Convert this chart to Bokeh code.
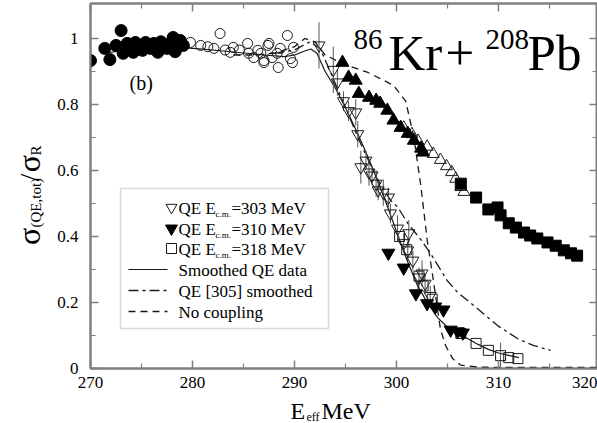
import math
from bokeh.plotting import figure
from bokeh.layouts import column, row
from bokeh.models import Range1d, LinearAxis, Label, FixedTicker, BoxAnnotation
from bokeh.embed import file_html
from bokeh.resources import INLINE

FONT = "Liberation Serif"
INK = "#1a1a1a"
AX = "#808080"

# ---------------- data ----------------
# filled circles (low energy QE data)
fc_E = [270.0, 271.4, 271.9, 272.5, 273.0, 273.2, 273.6, 274.2, 274.4, 274.8, 275.1, 275.4,
        275.9, 276.2, 276.6, 276.9, 277.1, 277.5, 277.8, 278.1, 278.3, 278.5, 278.8, 279.1]
fc_s = [0.933, 0.970, 0.936, 0.979, 1.024, 0.955, 0.985, 0.958, 0.988, 0.975, 0.964, 0.988,
        0.970, 0.985, 0.958, 0.990, 0.979, 0.970, 0.985, 1.003, 0.960, 0.973, 0.994, 0.979]

# open circles
oc_E = [279.8, 280.8, 281.5, 282.1, 282.7, 283.2, 283.7, 284.0, 284.6, 285.4, 285.5, 286.0,
        286.4, 286.7, 287.0, 287.0, 287.4, 287.5, 287.8, 288.3, 288.4, 288.6, 289.3, 289.6,
        289.8, 289.9]
oc_s = [0.988, 0.979, 0.975, 0.970, 1.015, 0.965, 0.958, 0.973, 0.965, 0.985, 0.955, 0.942,
        0.964, 0.955, 0.933, 0.927, 0.979, 0.985, 0.942, 0.955, 0.912, 0.970, 1.009, 0.939,
        0.927, 0.973]

# QE Ecm = 303 MeV (open down triangles) with error bars
d303_E = [292.4, 293.8, 294.2, 294.8, 295.3, 296.0, 296.2, 296.5, 297.0, 297.3, 297.6, 298.0,
          298.2, 298.7, 299.2, 299.4, 300.1, 300.7, 301.1, 301.2, 301.6, 302.2, 302.5, 302.8,
          303.3]
d303_s = [0.979, 0.905, 0.867, 0.810, 0.780, 0.776, 0.710, 0.610, 0.630, 0.594, 0.585, 0.560,
          0.540, 0.533, 0.518, 0.470, 0.424, 0.380, 0.358, 0.410, 0.327, 0.276, 0.288, 0.257,
          0.220]
d303_err = [0.070, 0.070, 0.040, 0.030, 0.030, 0.040, 0.040, 0.050, 0.030, 0.040, 0.030, 0.040,
            0.030, 0.040, 0.030, 0.030, 0.040, 0.030, 0.030, 0.040, 0.030, 0.030, 0.040, 0.030,
            0.030]

# QE Ecm = 310 MeV (filled down triangles)
d310_E = [299.2, 300.7, 301.9, 303.0, 303.8, 304.6, 305.3, 306.0, 306.5]
d310_s = [0.350, 0.305, 0.227, 0.197, 0.187, 0.178, 0.117, 0.112, 0.108]

# QE Ecm = 318 MeV (open squares)
s318_E = [300.3, 301.0, 302.2, 302.6, 303.5, 306.3, 307.8, 309.0, 310.2, 311.0, 311.9]
s318_s = [0.400, 0.360, 0.280, 0.250, 0.210, 0.106, 0.076, 0.055, 0.039, 0.033, 0.030]
s318_err = [0.0, 0.0, 0.0, 0.0, 0.0, 0.0, 0.0, 0.0, 0.039, 0.0, 0.0]

# upper band: filled up triangles, open up triangles, filled squares
uf_E = [294.7, 295.3, 296.0, 296.3, 297.3, 298.0, 298.4, 299.1, 299.7, 300.4, 301.1, 301.7,
        302.4, 302.6]
uf_s = [0.927, 0.882, 0.873, 0.833, 0.821, 0.812, 0.803, 0.782, 0.752, 0.730, 0.712, 0.691,
        0.667, 0.655]
uo_E = [300.7, 301.5, 302.1, 303.0, 303.6, 304.3, 304.9, 305.4, 305.8, 306.3, 306.6]
uo_s = [0.730, 0.710, 0.690, 0.672, 0.650, 0.632, 0.613, 0.595, 0.575, 0.550, 0.535]
sf_E = [306.3, 307.8, 309.0, 309.9, 310.2, 311.0, 311.7, 312.5, 313.1, 313.8, 314.8, 315.6,
        316.4, 317.1, 317.7]
sf_s = [0.560, 0.518, 0.482, 0.488, 0.464, 0.440, 0.427, 0.412, 0.403, 0.394, 0.382, 0.372,
        0.358, 0.349, 0.342]

# curves
sm_E = [271, 273, 275, 277, 279, 281, 283, 285, 287, 289, 290, 291, 291.6, 292.2, 293, 294,
        295, 296, 297, 298, 299, 300, 301, 302, 303, 304, 305, 306, 307, 308, 309, 310, 311, 312]
sm_s = [0.955, 0.962, 0.968, 0.972, 0.972, 0.968, 0.962, 0.956, 0.950, 0.945, 0.950, 0.962,
        0.968, 0.955, 0.900, 0.850, 0.790, 0.725, 0.655, 0.580, 0.500, 0.415, 0.330, 0.255,
        0.200, 0.155, 0.125, 0.106, 0.090, 0.073, 0.058, 0.047, 0.040, 0.033]
dd_E = [288, 290, 291.5, 292.5, 293.5, 295, 296.5, 298, 299.4, 300.1, 301.1, 302.4, 303.3,
        305, 306, 307.6, 309.9, 311.9, 313.4, 315.1]
dd_s = [0.955, 0.965, 0.990, 0.970, 0.900, 0.790, 0.680, 0.580, 0.510, 0.490, 0.440, 0.390,
        0.350, 0.265, 0.230, 0.190, 0.130, 0.090, 0.070, 0.055]
nc_E = [284, 286, 288, 290, 291, 292, 293, 295, 297.2, 299.7, 300.9, 301.7, 302.4, 303.0,
        303.5, 304.3, 304.8, 305.5, 306.3, 308, 312, 316, 319.7]
nc_s = [0.950, 0.950, 0.955, 0.975, 1.000, 0.990, 0.950, 0.920, 0.897, 0.858, 0.810, 0.700,
        0.550, 0.390, 0.290, 0.120, 0.070, 0.030, 0.010, 0.004, 0.003, 0.003, 0.003]

X_MIN, X_MAX = 270, 319.7
x_ticks = [270, 280, 290, 300, 310, 319.7]
x_tick_text = {270: "270", 280: "280", 290: "290", 300: "300", 310: "310", 319.7: "320"}
x_minor = [275, 285, 295, 305, 315]
y_ticks = [0, 0.2, 0.4, 0.6, 0.8, 1]
y_minor = [0.1, 0.3, 0.5, 0.7, 0.9]

BASE_SHIFT = 0.28  # the renderer drops the alphabetic baseline ~0.28 em

# ---------------- main figure ----------------
# page layout: y-title strip 50 px wide at the left, x-title strip 27 px high at the bottom
p = figure(width=547, height=396, x_range=Range1d(X_MIN, X_MAX), y_range=Range1d(0, 1.106),
           output_backend="svg", toolbar_location=None,
           min_border_left=40, min_border_right=0, min_border_top=3, min_border_bottom=28)
p.xgrid.visible = False
p.ygrid.visible = False
p.outline_line_color = AX
p.outline_line_width = 2
p.background_fill_color = "white"
p.border_fill_color = "white"

def style_axis(ax, ticks, labels=True):
    ax.axis_line_color = AX
    ax.axis_line_width = 2
    ax.major_tick_line_color = AX
    ax.minor_tick_line_color = AX
    ax.major_tick_line_width = 1.5
    ax.minor_tick_line_width = 1.2
    ax.major_tick_in = 8
    ax.major_tick_out = 0
    ax.minor_tick_in = 5
    ax.minor_tick_out = 0
    ax.major_label_text_font = FONT
    ax.major_label_text_color = "black"
    ax.major_label_text_font_size = "17px"
    if not labels:
        ax.major_label_overrides = {t: "" for t in ticks}
        ax.major_label_standoff = 0
        ax.axis_label_standoff = 0

p.xaxis[0].ticker = FixedTicker(ticks=x_ticks, minor_ticks=x_minor)
p.yaxis[0].ticker = FixedTicker(ticks=y_ticks, minor_ticks=y_minor)
style_axis(p.xaxis[0], x_ticks)
style_axis(p.yaxis[0], y_ticks)
p.xaxis[0].major_label_standoff = 8
p.xaxis[0].major_label_overrides = x_tick_text
p.yaxis[0].major_label_standoff = 12
p.yaxis[0].major_label_overrides = {0: "0", 1: "1"}

top = LinearAxis(ticker=FixedTicker(ticks=x_ticks[:-1], minor_ticks=x_minor))
style_axis(top, x_ticks[:-1], labels=False)
p.add_layout(top, "above")
right = LinearAxis(ticker=FixedTicker(ticks=y_ticks, minor_ticks=y_minor))
style_axis(right, y_ticks, labels=False)
p.add_layout(right, "right")

# curves
p.line(sm_E, sm_s, line_color=INK, line_width=1.2)
p.line(dd_E, dd_s, line_color=INK, line_width=1.3, line_dash="10 4 3 4")
p.line(nc_E, nc_s, line_color=INK, line_width=1.3, line_dash="7 5")

# error bars
p.segment(x0=d303_E, y0=[s - e for s, e in zip(d303_s, d303_err)],
          x1=d303_E, y1=[s + e for s, e in zip(d303_s, d303_err)],
          line_color="#555555", line_width=1)
p.segment(x0=s318_E, y0=[s - e for s, e in zip(s318_s, s318_err)],
          x1=s318_E, y1=[s + e for s, e in zip(s318_s, s318_err)],
          line_color="#555555", line_width=1)

# markers
p.scatter(oc_E, oc_s, marker="circle", size=10, fill_color=None, line_color=INK, line_width=1)
p.scatter(fc_E, fc_s, marker="circle", size=12, fill_color="black", line_color="black")
p.scatter(d303_E, d303_s, marker="inverted_triangle", size=12, fill_color=None,
          line_color=INK, line_width=1)
p.scatter(s318_E, s318_s, marker="square", size=10, fill_color=None, line_color=INK, line_width=1)
p.scatter(d310_E, d310_s, marker="inverted_triangle", size=13, fill_color="black", line_color="black")
p.scatter(uo_E, uo_s, marker="triangle", size=12, fill_color=None, line_color=INK, line_width=1)
p.scatter(uf_E, uf_s, marker="triangle", size=13, fill_color="black", line_color="black")
p.scatter(sf_E, sf_s, marker="square", size=11, fill_color="black", line_color="black")

# in-frame annotations, page pixel layout -> data coords
def dx(px):
    return 270 + (px - 90) / 10.2

def dy(py):
    return (368 - py) / 330.0

def lab(fig, text, x, y, size, align="left", angle=0.0):
    fig.add_layout(Label(x=x, y=y, text=text, text_font=FONT,
                         text_font_size=f"{size}px", text_align=align,
                         text_baseline="alphabetic", angle=angle, text_color="black"))

def mlab(text, px, py, size, align="left"):
    lab(p, text, dx(px), dy(py - BASE_SHIFT * size), size, align)

mlab("(b)", 129, 88, 20)

mlab("86", 353, 47, 29)
mlab("Kr", 388, 67, 51)
mlab("+", 445, 67, 51)
mlab("208", 485, 47, 29)
mlab("Pb", 527, 67, 51)

# legend box
p.add_layout(BoxAnnotation(left=dx(120), right=dx(328), top=dy(188), bottom=dy(328),
                           fill_color="white", fill_alpha=1.0, line_color=AX, line_width=1.5))

rows = [207, 228, 248, 269, 290, 311]
energies = ["303", "310", "318"]
for r, en in zip(rows[:3], energies):
    mlab("QE E", 178, r + 6, 17)
    mlab("c.m.", 215, r + 9, 9)
    mlab("=" + en + " MeV", 231, r + 6, 17)
mlab("Smoothed QE data", 178, rows[3] + 6, 17)
mlab("QE [305] smoothed", 178, rows[4] + 6, 17)
mlab("No coupling", 178, rows[5] + 6, 17)

p.scatter([dx(171)], [dy(rows[0])], marker="inverted_triangle", size=11, fill_color=None,
          line_color=INK, line_width=1, level="overlay")
p.scatter([dx(171)], [dy(rows[1])], marker="inverted_triangle", size=12, fill_color="black",
          line_color="black", level="overlay")
p.scatter([dx(171)], [dy(rows[2])], marker="square", size=10, fill_color=None,
          line_color=INK, line_width=1, level="overlay")
p.line([dx(128), dx(167)], [dy(rows[3])] * 2, line_color=INK, line_width=1.2, level="overlay")
p.line([dx(128), dx(167)], [dy(rows[4])] * 2, line_color=INK, line_width=1.3,
       line_dash="10 4 3 4", level="overlay")
p.line([dx(128), dx(167)], [dy(rows[5])] * 2, line_color=INK, line_width=1.3,
       line_dash="7 5", level="overlay")

# ---------------- title strips (pixel coordinates, y down) ----------------
def strip(w, h):
    f = figure(width=w, height=h, x_range=Range1d(0, w), y_range=Range1d(h, 0),
               output_backend="svg", toolbar_location=None,
               x_axis_location=None, y_axis_location=None,
               min_border_left=0, min_border_right=0, min_border_top=0, min_border_bottom=0)
    f.outline_line_color = None
    f.grid.visible = False
    f.background_fill_color = "white"
    f.border_fill_color = "white"
    return f

ys = strip(50, 396)
up = math.pi / 2
def ylab(text, px, py, size):
    lab(ys, text, px - BASE_SHIFT * size, py, size, angle=up)

ylab("σ", 37, 262, 32)
ylab("(QE,tot)", 40, 243, 15)
ylab("/", 37, 193, 28)
ylab("σ", 37, 183, 32)
ylab("R", 40, 165, 15)

XS_TOP = 396
xs = strip(597, 423 - XS_TOP)
def xlab(text, px, py, size):
    lab(xs, text, px, py - XS_TOP - BASE_SHIFT * size, size)

xlab("E", 290, 417, 24)
xlab("eff", 306, 420, 12)
xlab("MeV", 321, 417, 24)

layout = column(row(ys, p), xs)
open("out.html", "w").write(file_html(layout, INLINE))
